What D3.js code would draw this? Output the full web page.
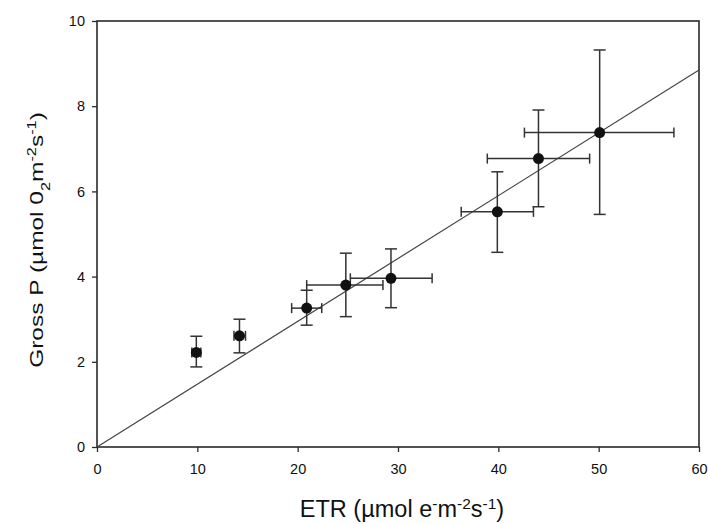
<!DOCTYPE html>
<html>
<head>
<meta charset="utf-8">
<script src="https://cdn.jsdelivr.net/npm/d3@7"></script>
<style>
  html, body { margin: 0; padding: 0; background: #fff; }
  svg { display: block; font-family: "Liberation Sans", Arial, sans-serif; }
</style>
</head>
<body>
<svg id="chart" width="708" height="524"></svg>
<script>
// ETR vs gross photosynthesis, means with error ranges
const etr      = [9.9, 14.2, 20.9, 24.8, 29.3, 39.9, 44.0, 50.1];
const etrLow   = [9.45, 13.65, 19.4, 20.9, 25.25, 36.3, 38.9, 42.6];
const etrHigh  = [10.35, 14.8, 22.4, 28.5, 33.4, 43.5, 49.1, 57.5];
const grossP     = [2.22, 2.61, 3.26, 3.80, 3.96, 5.52, 6.77, 7.38];
const grossPLow  = [1.88, 2.21, 2.86, 3.06, 3.27, 4.57, 5.64, 5.46];
const grossPHigh = [2.60, 3.00, 3.68, 4.55, 4.65, 6.46, 7.91, 9.32];
const xTicks = [0, 10, 20, 30, 40, 50, 60];
const yTicks = [0, 2, 4, 6, 8, 10];
const fitSlope = 0.1475; // fitted line through the origin
const fitX = [0, 60];

const svg = d3.select("#chart");
const margin = { left: 97, right: 9, top: 21, bottom: 77 };
const W = 708, H = 524;

const x = d3.scaleLinear().domain([0, 60]).range([margin.left, W - margin.right]);
const y = d3.scaleLinear().domain([0, 10]).range([H - margin.bottom, margin.top]);

const ink = "#2a2a2a";

// frame
svg.append("rect")
  .attr("x", x(0)).attr("y", y(10))
  .attr("width", x(60) - x(0)).attr("height", y(0) - y(10))
  .attr("fill", "none").attr("stroke", ink).attr("stroke-width", 1.6);

// axes
const xAxis = svg.append("g")
  .attr("transform", `translate(0,${y(0)})`)
  .call(d3.axisBottom(x).tickValues(xTicks).tickSize(5).tickPadding(12).tickFormat(d3.format("d")));
const yAxis = svg.append("g")
  .attr("transform", `translate(${x(0)},0)`)
  .call(d3.axisLeft(y).tickValues(yTicks).tickSize(5).tickPadding(7).tickFormat(d3.format("d")));
[xAxis, yAxis].forEach(g => {
  g.select(".domain").remove();
  g.selectAll(".tick line").attr("stroke", ink).attr("stroke-width", 1.3);
  g.selectAll(".tick text").attr("fill", "#111").style("font-size", "14.5px")
    .style("font-family", "'Liberation Sans', Arial, sans-serif");
});

// fitted line
svg.append("line")
  .attr("x1", x(fitX[0])).attr("y1", y(fitSlope * fitX[0]))
  .attr("x2", x(fitX[1])).attr("y2", y(fitSlope * fitX[1]))
  .attr("stroke", "#444").attr("stroke-width", 1.2);

const pts = etr.map((v, i) => ({
  x: v, y: grossP[i],
  xl: etrLow[i], xh: etrHigh[i],
  yl: grossPLow[i], yh: grossPHigh[i]
}));

const capV = 6, capH = 5;
const bars = svg.append("g").attr("stroke", "#333").attr("stroke-width", 1.5);
pts.forEach(p => {
  const cx = x(p.x), cy = y(p.y);
  // vertical error bar
  bars.append("line").attr("x1", cx).attr("x2", cx).attr("y1", y(p.yl)).attr("y2", y(p.yh));
  bars.append("line").attr("x1", cx - capV).attr("x2", cx + capV).attr("y1", y(p.yl)).attr("y2", y(p.yl));
  bars.append("line").attr("x1", cx - capV).attr("x2", cx + capV).attr("y1", y(p.yh)).attr("y2", y(p.yh));
  // horizontal error bar
  bars.append("line").attr("x1", x(p.xl)).attr("x2", x(p.xh)).attr("y1", cy).attr("y2", cy);
  bars.append("line").attr("x1", x(p.xl)).attr("x2", x(p.xl)).attr("y1", cy - capH).attr("y2", cy + capH);
  bars.append("line").attr("x1", x(p.xh)).attr("x2", x(p.xh)).attr("y1", cy - capH).attr("y2", cy + capH);
});

svg.append("g").selectAll("circle").data(pts).join("circle")
  .attr("cx", d => x(d.x)).attr("cy", d => y(d.y)).attr("r", 5.5)
  .attr("fill", "#111");

// axis titles with super/subscripts
function richLabel(sel, parts, small) {
  parts.forEach(([t, kind]) => {
    const ts = sel.append("tspan").text(t);
    if (kind === "sup") ts.attr("baseline-shift", "super").style("font-size", small);
    if (kind === "sub") ts.attr("baseline-shift", "sub").style("font-size", small);
  });
}

const xTitle = svg.append("text")
  .attr("x", 402).attr("y", 517)
  .attr("text-anchor", "middle").attr("fill", "#111")
  .style("font-size", "23.5px");
richLabel(xTitle, [["ETR (\u00B5mol e", ""], ["-", "sup"], ["m", ""], ["-2", "sup"], ["s", ""], ["-1", "sup"], [")", ""]], "15.5px");

const yTitle = svg.append("text")
  .attr("transform", "translate(43,240) rotate(-90) scale(1.36,1)")
  .attr("text-anchor", "middle").attr("fill", "#111")
  .style("font-size", "18px");
richLabel(yTitle, [["Gross P (\u00B5mol 0", ""], ["2", "sub"], ["m", ""], ["-2", "sup"], ["s", ""], ["-1", "sup"], [")", ""]], "12px");
</script>
</body>
</html>
